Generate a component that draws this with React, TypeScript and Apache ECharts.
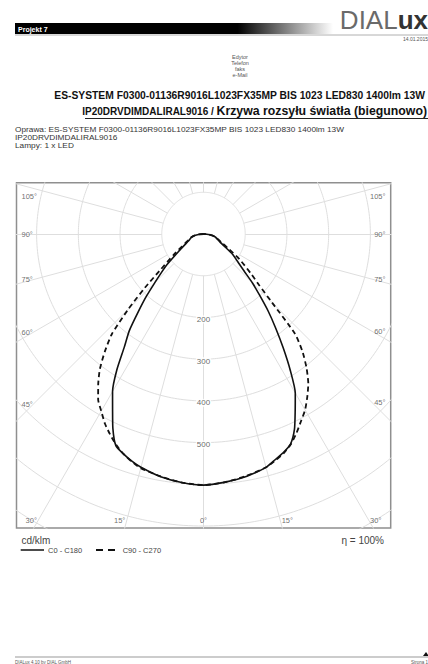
import React, { useEffect, useRef } from "react";
import * as echarts from "echarts";

// Gamma angles (deg) and luminous intensity (cd/klm) per C-plane
const GAMMA = [0, 5, 10, 15, 17.5, 20, 22.5, 25, 27.5, 30, 32.5, 35, 37.5, 40, 42.5, 45, 47.5, 50, 55, 60, 65, 70, 75, 80, 85, 90];
const C0 = [602, 597, 590, 579, 568, 558, 545, 516, 476, 440, 387, 333, 284, 241, 199, 166, 133, 112, 85, 56, 42, 35, 30, 22, 12, 0];
const C180 = [602, 598, 591, 579, 571, 561, 549, 514, 472, 436, 387, 331, 292, 243, 203, 165, 137, 114, 73, 52, 40, 34, 30, 22, 12, 0];
const C90 = [602, 597, 589, 579, 570, 560, 546, 527, 506, 487, 463, 438, 406, 370, 325, 232, 180, 150, 105, 67, 48, 37, 30, 22, 12, 0];
const C270 = [602, 598, 590, 581, 572, 561, 547, 530, 512, 490, 470, 440, 408, 368, 325, 255, 190, 138, 88, 60, 45, 36, 30, 22, 12, 0];

const RADIUS_TICKS = [200, 300, 400, 500];
const GRID_RADII = [100, 200, 300, 400, 500, 600, 700, 800, 900, 1000];
const SIDE_ANGLE_TICKS = [45, 60, 75, 90, 105];
const BOTTOM_ANGLE_TICKS = [0, 15, 30];
const RADIAL_STEP = 15;

const PROJECT = "Projekt 7";
const DATE = "14.01.2015";
const HEADER_LINES = ["Edytor", "Telefon", "faks", "e-Mail"];
const LUMINAIRE = "ES-SYSTEM F0300-01136R9016L1023FX35MP BIS 1023 LED830 1400lm 13W";
const LUMINAIRE_2 = "IP20DRVDIMDALIRAL9016";
const TITLE_SUFFIX = "Krzywa rozsyłu światła (biegunowo)";
const LAMPS = "Lampy: 1 x LED";
const UNIT = "cd/klm";
const ETA = "η = 100%";
const SERIES_NAMES = ["C0 - C180", "C90 - C270"];
const FOOTER_LEFT = "DIALux 4.10 by DIAL GmbH";
const FOOTER_RIGHT = "Strona 1";

// geometry (pixels)
const PX = 0.4172; // px per cd/klm
const BOX_L = 16.5, BOX_T = 182.7, BOX_W = 374.2, BOX_H = 345.3;
const CX = 203.5, CY = 234;
const FONT = "Liberation Sans";

const rad = (d: number) => (d * Math.PI) / 180;
const toData = (px: number, py: number) => [(px - CX) / PX, (CY - py) / PX];
const pt = (g: number, r: number, s: number) => [s * r * Math.sin(rad(g)), -r * Math.cos(rad(g))];

function curve(right: number[], left: number[]) {
  const pts: number[][] = [];
  for (let i = GAMMA.length - 1; i >= 0; i--) pts.push(pt(GAMMA[i], left[i], -1));
  for (let i = 1; i < GAMMA.length; i++) pts.push(pt(GAMMA[i], right[i], 1));
  return pts;
}

export default function App() {
  const ref = useRef<HTMLDivElement>(null);
  useEffect(() => {
    if (!ref.current) return;
    const chart = echarts.init(ref.current, undefined, { renderer: "svg" });

    const circles = GRID_RADII.map((r) => ({
      coords: Array.from({ length: 361 }, (_, k) => [r * Math.sin(rad(k)), r * Math.cos(rad(k))]),
    }));
    const radials: any[] = [];
    for (let a = 0; a < 360; a += RADIAL_STEP) {
      radials.push({ coords: [pt(a, 100, 1), pt(a, 2000, 1)] });
    }

    const angleLabels: any[] = [];
    SIDE_ANGLE_TICKS.forEach((a) => {
      const t = Math.tan(rad(a));
      const pyL = Math.max(196, CY + (CX - 33) / t);
      const pyR = Math.max(196, CY + (372 - CX) / t);
      angleLabels.push({ name: a + "°", value: toData(21.5, pyL), label: { align: "left" } });
      angleLabels.push({ name: a + "°", value: toData(385.5, pyR), label: { align: "right" } });
    });
    BOTTOM_ANGLE_TICKS.forEach((a) => {
      const py = 520;
      if (a === 0) {
        angleLabels.push({ name: "0°", value: toData(CX, py), label: { align: "center" } });
        return;
      }
      const dx = (py - CY) * Math.tan(rad(a));
      angleLabels.push({ name: a + "°", value: toData(CX - dx - 1.5, py), label: { align: "right" } });
      angleLabels.push({ name: a + "°", value: toData(CX + dx + 1.5, py), label: { align: "left" } });
    });

    const radiusLabels = RADIUS_TICKS.map((r) => ({ name: String(r), value: [0, -r] }));

    const labelBase = {
      show: true, position: "inside", formatter: "{b}", verticalAlign: "middle",
      fontFamily: FONT, textBorderWidth: 0, textShadowBlur: 0,
    };

    const option: any = {
      animation: false,
      backgroundColor: "#fff",
      grid: {
        left: BOX_L, top: BOX_T, width: BOX_W, height: BOX_H,
        show: true, borderColor: "#8f8f8f", borderWidth: 1.5, backgroundColor: "#fff",
      },
      xAxis: { type: "value", min: (BOX_L - CX) / PX, max: (BOX_L + BOX_W - CX) / PX, show: false },
      yAxis: { type: "value", min: (CY - BOX_T - BOX_H) / PX, max: (CY - BOX_T) / PX, show: false },
      series: [
        {
          type: "lines", coordinateSystem: "cartesian2d", polyline: true, silent: true, clip: true,
          data: circles, lineStyle: { color: "#dedede", width: 1, opacity: 1 }, z: 1,
        },
        {
          type: "lines", coordinateSystem: "cartesian2d", silent: true, clip: true,
          data: radials, lineStyle: { color: "#dedede", width: 1, opacity: 1 }, z: 1,
        },
        {
          name: SERIES_NAMES[0], type: "line", data: curve(C0, C180), symbol: "none", smooth: 0.2,
          lineStyle: { color: "#111", width: 1.6 }, z: 5, clip: true,
        },
        {
          name: SERIES_NAMES[1], type: "line", data: curve(C90, C270), symbol: "none", smooth: 0.2,
          lineStyle: { color: "#111", width: 1.8, type: [5, 3.5] }, z: 5, clip: true,
        },
        {
          type: "scatter", data: angleLabels, symbol: "circle", symbolSize: 1, silent: true, z: 6, clip: false,
          itemStyle: { color: "rgba(255,255,255,0)" },
          label: { ...labelBase, fontSize: 7.5, color: "#4a4a4a" },
        },
        {
          type: "scatter", data: radiusLabels, symbol: "circle", symbolSize: 1, silent: true, z: 6, clip: false,
          itemStyle: { color: "rgba(255,255,255,0)" },
          label: {
            ...labelBase, align: "center", offset: [0, 2], fontSize: 8, color: "#444",
            backgroundColor: "#fff", padding: [0, 1],
          },
        },
      ],
      graphic: [
        {
          type: "rect", shape: { x: 15, y: 23, width: 318, height: 11 },
          style: {
            fill: new echarts.graphic.LinearGradient(0, 0, 1, 0, [
              { offset: 0, color: "#000" }, { offset: 0.7, color: "#000" }, { offset: 1, color: "#fff" },
            ]),
          },
        },
        { type: "line", shape: { x1: 15, y1: 35, x2: 428, y2: 35 }, style: { stroke: "#b0b0b0", lineWidth: 1 } },
        { type: "text", x: 18, y: 29, style: { text: PROJECT, fill: "#fff", font: `bold 7px ${FONT}`, verticalAlign: "middle" } },
        {
          type: "text", x: 428, y: 33,
          style: {
            text: "{a|DIAL}{b|ux}", align: "right", verticalAlign: "bottom",
            rich: {
              a: { fontFamily: FONT, fontSize: 26, fontWeight: "normal", fill: "#6a6a6a", color: "#6a6a6a" },
              b: { fontFamily: FONT, fontSize: 26, fontWeight: "bold", fill: "#333", color: "#333" },
            },
          },
        },
        { type: "text", x: 428, y: 39, style: { text: DATE, fill: "#555", font: `5px ${FONT}`, align: "right", verticalAlign: "middle" } },
        ...HEADER_LINES.map((t, i) => ({
          type: "text", x: 240, y: 57 + i * 6,
          style: { text: t, fill: "#555", font: `5.5px ${FONT}`, align: "center", verticalAlign: "middle" },
        })),
        { type: "text", x: 425, y: 95, style: { text: LUMINAIRE, fill: "#111", font: `bold 10.3px ${FONT}`, align: "right", verticalAlign: "middle" } },
        {
          type: "text", x: 427, y: 111,
          style: {
            text: `{a|${LUMINAIRE_2} / }{b|${TITLE_SUFFIX}}`, align: "right", verticalAlign: "middle",
            rich: {
              a: { fontFamily: FONT, fontSize: 10, fontWeight: "bold", fill: "#111", color: "#111" },
              b: { fontFamily: FONT, fontSize: 12.3, fontWeight: "bold", fill: "#111", color: "#111" },
            },
          },
        },
        { type: "line", shape: { x1: 85, y1: 118.5, x2: 428, y2: 118.5 }, style: { stroke: "#222", lineWidth: 1 } },
        ...["Oprawa: " + LUMINAIRE, LUMINAIRE_2, LAMPS].map((t, i) => ({
          type: "text", x: 15, y: 130 + i * 7.7, scaleX: 1.12,
          style: { text: t, fill: "#333", font: `7.4px ${FONT}`, verticalAlign: "middle" },
        })),
        { type: "text", x: 21.5, y: 540, style: { text: UNIT, fill: "#444", font: `10px ${FONT}`, verticalAlign: "middle" } },
        { type: "line", shape: { x1: 20.7, y1: 550, x2: 44, y2: 550 }, style: { stroke: "#111", lineWidth: 1.5 } },
        { type: "text", x: 48, y: 550, style: { text: SERIES_NAMES[0], fill: "#444", font: `7.5px ${FONT}`, verticalAlign: "middle" } },
        { type: "line", shape: { x1: 96, y1: 550, x2: 116, y2: 550 }, style: { stroke: "#111", lineWidth: 1.8, lineDash: [7, 5] } },
        { type: "text", x: 122.7, y: 550, style: { text: SERIES_NAMES[1], fill: "#444", font: `7.5px ${FONT}`, verticalAlign: "middle" } },
        { type: "text", x: 384, y: 540, style: { text: ETA, fill: "#444", font: `10px ${FONT}`, align: "right", verticalAlign: "middle" } },
        { type: "line", shape: { x1: 15, y1: 657, x2: 428, y2: 657 }, style: { stroke: "#999", lineWidth: 1 } },
        { type: "polygon", shape: { points: [[423, 656], [426, 652], [429, 656]] }, style: { fill: "#111" } },
        { type: "text", x: 15, y: 662, style: { text: FOOTER_LEFT, fill: "#555", font: `4.5px ${FONT}`, verticalAlign: "middle" } },
        { type: "text", x: 428, y: 662, style: { text: FOOTER_RIGHT, fill: "#555", font: `4.5px ${FONT}`, align: "right", verticalAlign: "middle" } },
      ],
    };
    chart.setOption(option);
    return () => chart.dispose();
  }, []);
  return <div ref={ref} style={{ position: "absolute", left: 0, top: 0, width: 428, height: 664, background: "#fff" }} />;
}
